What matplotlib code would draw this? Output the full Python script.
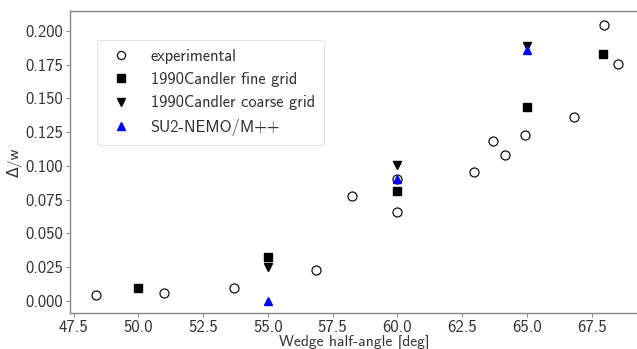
import matplotlib
matplotlib.use("Agg")
import matplotlib.pyplot as plt

plt.rcParams['font.family'] = ['cmss10', 'DejaVu Sans']
plt.rcParams['axes.unicode_minus'] = False

# Measured shock stand-off distance vs wedge half-angle
exp_angle = [48.35, 50.98, 53.69, 56.85, 58.25, 60.0, 60.0, 62.97, 63.68, 64.17, 64.92, 66.82, 67.96, 68.52]
exp_delta = [0.0045, 0.0062, 0.0099, 0.023, 0.078, 0.0906, 0.0656, 0.0958, 0.1183, 0.1084, 0.123, 0.1359, 0.2045, 0.1758]

fine_angle = [50.0, 55.0, 60.0, 65.0, 67.95]
fine_delta = [0.0095, 0.0327, 0.0812, 0.1436, 0.1827]

coarse_angle = [55.0, 60.0, 65.0]
coarse_delta = [0.0255, 0.1005, 0.1888]

su2_angle = [55.0, 60.0, 65.0]
su2_delta = [0.0, 0.0904, 0.1862]

xticks = [47.5, 50.0, 52.5, 55.0, 57.5, 60.0, 62.5, 65.0, 67.5]
yticks = [0.000, 0.025, 0.050, 0.075, 0.100, 0.125, 0.150, 0.175, 0.200]

text_col = '#333333'
spine_col = '#888888'

fig = plt.figure(figsize=(6.37, 3.49), dpi=100)
ax = fig.add_axes([0.110, 0.103, 0.892, 0.865])

ms = 6
ax.plot(exp_angle, exp_delta, 'o', mfc='white', mec='#111111', mew=0.9, ms=ms + 0.5, ls='none', label='experimental')
ax.plot(fine_angle, fine_delta, 's', color='black', ms=ms, ls='none', label='1990Candler fine grid')
ax.plot(coarse_angle, coarse_delta, 'v', color='black', ms=ms, ls='none', label='1990Candler coarse grid')
ax.plot(su2_angle, su2_delta, '^', color='blue', ms=ms, ls='none', label='SU2-NEMO/M++')

ax.set_xlim(47.36, 69.3)
ax.set_ylim(-0.0089, 0.2146)
ax.set_xticks(xticks)
ax.set_yticks(yticks)
ax.set_xticklabels([f'{v:.1f}' for v in xticks])
ax.set_yticklabels([f'{v:.3f}' for v in yticks])

ax.set_xlabel('Wedge half-angle [deg]', fontsize=11.3, labelpad=0, color=text_col)
ax.set_ylabel('Δ/w', fontsize=11.3, labelpad=2, color=text_col)

for side in ['left', 'bottom', 'top']:
    ax.spines[side].set_color(spine_col)
    ax.spines[side].set_linewidth(1.0)
ax.spines['right'].set_visible(False)
ax.tick_params(axis='both', labelsize=12, colors=spine_col, labelcolor=text_col,
               length=3, width=0.8, pad=2)

leg = ax.legend(loc='upper left', bbox_to_anchor=(0.048, 0.905), borderaxespad=0,
                fontsize=11.8, frameon=True, fancybox=True, handletextpad=0.9,
                borderpad=0.55, labelspacing=0.5, handlelength=1.8, markerscale=0.9)
leg.get_frame().set_edgecolor('#dddddd')
leg.get_frame().set_linewidth(0.8)
for t in leg.get_texts():
    t.set_color(text_col)

fig.savefig('out.png', dpi=100)
